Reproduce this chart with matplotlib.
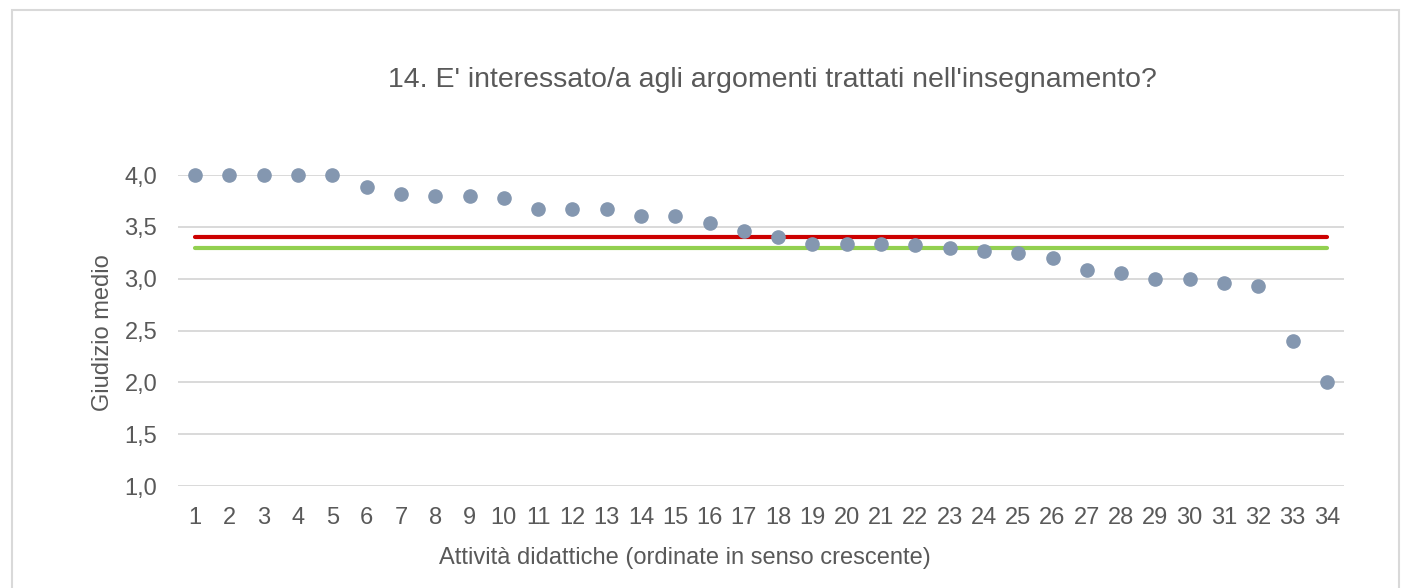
import matplotlib
matplotlib.use("Agg")
import matplotlib.pyplot as plt
from matplotlib.patches import Rectangle

title = "14. E' interessato/a agli argomenti trattati nell'insegnamento?"
xlabel = "Attività didattiche (ordinate in senso crescente)"
ylabel = "Giudizio medio"

activities = list(range(1, 35))
scores = [4.0, 4.0, 4.0, 4.0, 4.0, 3.88, 3.82, 3.80, 3.80, 3.78,
          3.67, 3.67, 3.67, 3.60, 3.60, 3.54, 3.46, 3.40, 3.33, 3.33,
          3.33, 3.32, 3.30, 3.27, 3.25, 3.20, 3.08, 3.05, 3.00, 3.00,
          2.96, 2.93, 2.40, 2.00]
red_level = 3.40
green_level = 3.30
yticks = [1.0, 1.5, 2.0, 2.5, 3.0, 3.5, 4.0]
ytick_labels = ["1,0", "1,5", "2,0", "2,5", "3,0", "3,5", "4,0"]

W, H = 1412, 588
fig = plt.figure(figsize=(W / 100, H / 100), dpi=100)
plt.rcParams['font.family'] = ['Liberation Sans', 'DejaVu Sans']
text_color = "#595959"

# outer frame
fig.patches.append(Rectangle((12 / W, -0.05), (1399 - 12) / W, 1 - 10 / H + 0.05,
                             transform=fig.transFigure, fill=False,
                             edgecolor="#D9D9D9", lw=1.5))

ax = fig.add_axes([178 / W, 1 - 486 / H, (1344 - 178) / W, (486 - 175) / H])
ax.set_xlim(0.5, 34.5)
ax.set_ylim(1.0, 4.0)
ax.set_yticks(yticks)
ax.set_yticklabels(ytick_labels)
ax.set_xticks(activities)
ax.set_xticklabels([str(a) for a in activities])
ax.grid(axis='y', color="#D9D9D9", lw=1.4)
ax.set_axisbelow(True)
for s in ax.spines.values():
    s.set_visible(False)
ax.tick_params(axis='both', length=0, colors=text_color, labelsize=17)
ax.tick_params(axis='x', pad=15)
ax.tick_params(axis='y', pad=15)

ax.plot([activities[0], activities[-1]], [red_level, red_level], color="#CC0000",
        lw=3, solid_capstyle='round', zorder=2)
ax.plot([activities[0], activities[-1]], [green_level, green_level], color="#92D050",
        lw=3, solid_capstyle='round', zorder=2)
ax.plot(activities, scores, 'o', color="#8497B0", markersize=9.5, zorder=3, clip_on=False)

fig.text(772 / W, 1 - 80 / H, title, ha='center', va='center', fontsize=20.5, color=text_color)
fig.text(685 / W, 1 - 558 / H, xlabel, ha='center', va='center', fontsize=17, color=text_color)
fig.text(103 / W, 1 - 333 / H, ylabel, ha='center', va='center', rotation=90,
         fontsize=17, color=text_color)

fig.savefig("out.png", dpi=100)
